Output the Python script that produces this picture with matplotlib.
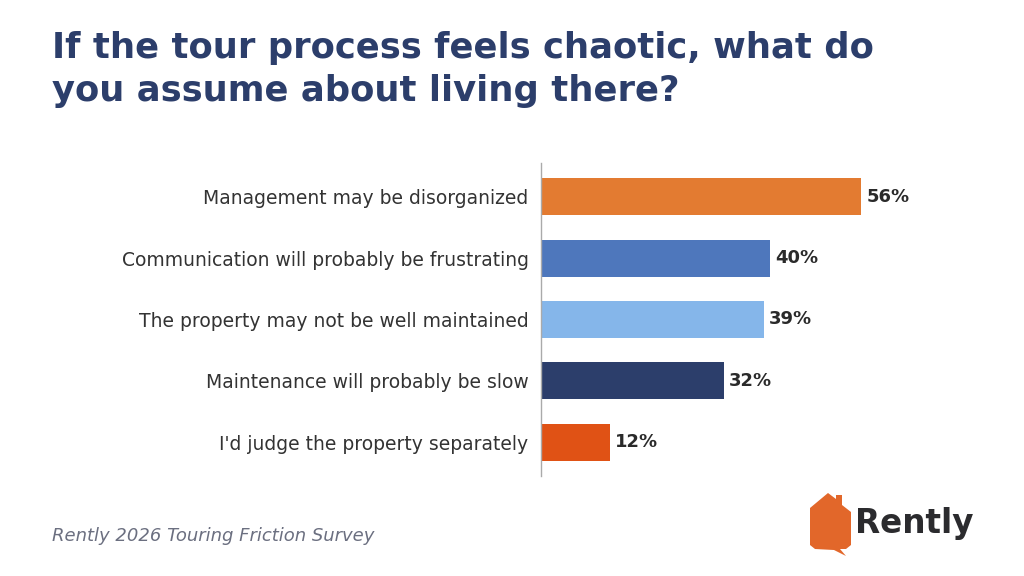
import matplotlib.pyplot as plt
from matplotlib.patches import Polygon

categories = [
    'Management may be disorganized',
    'Communication will probably be frustrating',
    'The property may not be well maintained',
    'Maintenance will probably be slow',
    "I'd judge the property separately",
]
values = [56, 40, 39, 32, 12]
colors = ['#E37B31', '#4E77BC', '#85B6EA', '#2C3E6B', '#E05215']

title = 'If the tour process feels chaotic, what do\nyou assume about living there?'
source = 'Rently 2026 Touring Friction Survey'

plt.rcParams['font.family'] = ['DejaVu Sans']

W, H = 1024, 576
fig = plt.figure(figsize=(W / 100, H / 100), dpi=100)
fig.patch.set_facecolor('white')

# axes placed in pixel terms: left spine at x=541, y from 163 to 476
left, right, top, bottom = 541, 1000, 163, 476
ax = fig.add_axes([left / W, 1 - bottom / H, (right - left) / W, (bottom - top) / H])

ypos = list(range(len(categories)))
ax.barh(ypos, values, height=0.6, color=colors)
ax.set_ylim(len(categories) - 0.45, -0.55)
ax.set_xlim(0, (right - left) / (320 / 56))

for y, v in zip(ypos, values):
    ax.text(v + 0.9, y, f'{v}%', va='center', ha='left', fontsize=13,
            fontweight='bold', color='#2a2a2a')

ax.set_yticks(ypos)
ax.set_yticklabels(categories, fontsize=13.5, color='#333333')
ax.tick_params(axis='y', length=0, pad=9)
ax.set_xticks([])
for s in ['top', 'right', 'bottom']:
    ax.spines[s].set_visible(False)
ax.spines['left'].set_color('#aaaaaa')
ax.spines['left'].set_linewidth(1)

fig.text(52 / W, 1 - 31 / H, title, ha='left', va='top', fontsize=25.5,
         fontweight='bold', color='#2C3E6B', linespacing=1.35)
fig.text(52 / W, 1 - 536 / H, source, ha='left', va='center', fontsize=13,
         style='italic', color='#6b6f80')

# logo: house-shaped speech bubble + wordmark
lax = fig.add_axes([0, 0, 1, 1], zorder=-1)
lax.set_xlim(0, W)
lax.set_ylim(H, 0)
lax.axis('off')
house = [(810, 508), (828, 493), (836, 499), (836, 495), (842, 495), (842, 505),
         (851, 512), (851, 545), (846, 549), (840, 549), (846, 556), (834, 550),
         (815, 549), (810, 545)]
lax.add_patch(Polygon(house, closed=True, facecolor='#E2672A', edgecolor='none'))
lax.text(855, 524, 'Rently', ha='left', va='center', fontsize=23.5,
         fontweight='bold', color='#2b2b2e')

fig.savefig('out.png', dpi=100, facecolor='white')
